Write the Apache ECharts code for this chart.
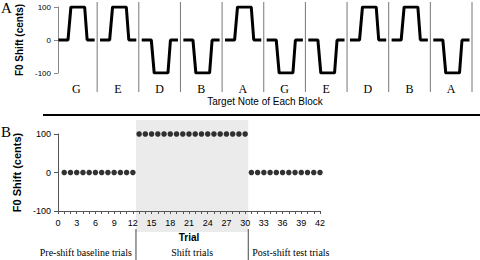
<!DOCTYPE html>
<html><head><meta charset="utf-8">
<script src="https://cdn.jsdelivr.net/npm/echarts@6/dist/echarts.min.js"></script>
<style>html,body{margin:0;padding:0;background:#fff}#c{width:480px;height:260px}</style>
</head><body><div id="c"></div>
<script>
// Panel A: target note and shift direction of each block
const blockNotes = ['G','E','D','B','A','G','E','D','B','A'];
const blockShifts = [100,100,-100,-100,100,-100,-100,100,100,-100];
// shape of a single block's shift pulse (fraction of block, relative level)
const pulsePhases = [0.07,0.30,0.37,0.70,0.76,0.94];
const pulseLevels = [0,0,1,1,0,0];
const shiftTicks = [-100,0,100];
// Panel B: F0 shift on each trial
const trialShifts = [0,0,0,0,0,0,0,0,0,0,0,0,
  100,100,100,100,100,100,100,100,100,100,100,100,100,100,100,100,100,100,
  0,0,0,0,0,0,0,0,0,0,0,0];
const trialTicks = [0,3,6,9,12,15,18,21,24,27,30,33,36,39,42];
const phaseBounds = [12.5, 30.5];
const phaseLabels = ['Pre-shift baseline trials','Shift trials','Post-shift test trials'];

const SANS = '"Liberation Sans", Arial, sans-serif';
const SERIF = '"Liberation Serif", "Times New Roman", serif';

const pulseData = [];
blockShifts.forEach((s, i) => {
  pulsePhases.forEach((p, j) => pulseData.push([i + p, pulseLevels[j] * s]));
  pulseData.push([i + 1, '-']);
});
const trialData = trialShifts.map((v, i) => [i + 1, v]);

const chart = echarts.init(document.getElementById('c'), null, {renderer: 'svg'});
chart.setOption({
  animation: false,
  backgroundColor: '#fff',
  graphic: [
    {type: 'text', left: 1, top: 0, style: {text: 'A', font: '15px ' + SERIF, fill: '#000'}},
    {type: 'text', left: 1, top: 124, style: {text: 'B', font: '15px ' + SERIF, fill: '#000'}},
    {type: 'line', shape: {x1: 43, y1: 115, x2: 480, y2: 115}, style: {stroke: '#000', lineWidth: 2}}
  ],
  grid: [
    {left: 58, right: 8, top: 7, height: 66},
    {left: 58, right: 160, top: 134, height: 77}
  ],
  xAxis: [
    {gridIndex: 0, type: 'value', min: 0.06, max: 10,
     axisLine: {show: false, onZero: false}, axisTick: {show: false}, axisLabel: {show: false}, splitLine: {show: false},
     name: 'Target Note of Each Block', nameLocation: 'middle', nameGap: 23,
     nameTextStyle: {fontFamily: SANS, fontSize: 10, color: '#000'}},
    {gridIndex: 1, type: 'value', min: 0, max: 42, interval: 3,
     axisLine: {onZero: false, lineStyle: {color: '#555', width: 1}},
     axisTick: {length: 3, lineStyle: {color: '#555'}},
     minorTick: {show: true, splitNumber: 3, length: 3, lineStyle: {color: '#555'}},
     axisLabel: {fontFamily: SANS, fontSize: 9, color: '#000', margin: 7,
       formatter: v => trialTicks.includes(v) ? String(v) : ''},
     splitLine: {show: false},
     name: 'Trial', nameLocation: 'middle', nameGap: 21,
     nameTextStyle: {fontFamily: SANS, fontSize: 10, fontWeight: 'bold', color: '#000'}}
  ],
  yAxis: [
    {gridIndex: 0, type: 'value', min: shiftTicks[0], max: shiftTicks[2], interval: 100,
     axisLine: {show: true, lineStyle: {color: '#888'}},
     axisTick: {show: true, length: 4, lineStyle: {color: '#888'}},
     axisLabel: {fontFamily: SANS, fontSize: 8, color: '#000', margin: 7},
     splitLine: {show: false},
     name: 'F0 Shift (cents)', nameLocation: 'middle', nameGap: 30,
     nameTextStyle: {fontFamily: SANS, fontSize: 10, fontWeight: 'bold', color: '#000'}},
    {gridIndex: 1, type: 'value', min: shiftTicks[0], max: shiftTicks[2], interval: 100,
     axisLine: {show: true, lineStyle: {color: '#555'}},
     axisTick: {show: true, length: 4, lineStyle: {color: '#555'}},
     axisLabel: {fontFamily: SANS, fontSize: 9, color: '#000', margin: 7},
     splitLine: {show: false},
     name: 'F0 Shift (cents)', nameLocation: 'middle', nameGap: 30,
     nameTextStyle: {fontFamily: SANS, fontSize: 11, fontWeight: 'bold', color: '#000'}}
  ],
  series: [
    {type: 'line', xAxisIndex: 0, yAxisIndex: 0, data: pulseData, showSymbol: false, symbol: 'none',
     connectNulls: false, lineStyle: {color: '#000', width: 3}, silent: true},
    {type: 'custom', xAxisIndex: 0, yAxisIndex: 0, clip: false, silent: true,
     data: blockNotes.map((n, i) => [i, 0]),
     renderItem(params, api) {
       const i = params.dataIndex;
       const cs = params.coordSys;
       const xr = api.coord([i + 1, 0])[0];
       const xc = api.coord([i + 0.5, 0])[0];
       return {type: 'group', children: [
         {type: 'line', shape: {x1: xr, y1: cs.y - 5, x2: xr, y2: cs.y + cs.height + 19},
          style: {stroke: '#777', lineWidth: 1}},
         {type: 'text', x: xc, y: cs.y + cs.height + 16,
          style: {text: blockNotes[i], font: '12px ' + SERIF, fill: '#000', align: 'center', verticalAlign: 'middle'}}
       ]};
     }},
    {type: 'custom', xAxisIndex: 1, yAxisIndex: 1, clip: false, silent: true, z: -1,
     data: phaseLabels.map((t, i) => [i, 0]),
     renderItem(params, api) {
       const i = params.dataIndex;
       const cs = params.coordSys;
       const x0 = api.coord([phaseBounds[0], 0])[0];
       const x1 = api.coord([phaseBounds[1], 0])[0];
       const ty = cs.y + cs.height + 41;
       const font = '10px ' + SERIF;
       const children = [];
       if (i === 0) {
         children.push({type: 'text', x: x0 - 4, y: ty,
           style: {text: phaseLabels[0], font, fill: '#000', align: 'right', verticalAlign: 'middle'}});
       } else if (i === 1) {
         children.push({type: 'rect', shape: {x: x0, y: cs.y - 14, width: x1 - x0, height: cs.height + 35},
           style: {fill: '#ebebeb'}});
         [x0, x1].forEach(x => children.push({type: 'line',
           shape: {x1: x, y1: cs.y + cs.height + 18, x2: x, y2: 260},
           style: {stroke: '#444', lineWidth: 1}}));
         children.push({type: 'text', x: (x0 + x1) / 2, y: ty,
           style: {text: phaseLabels[1], font, fill: '#000', align: 'center', verticalAlign: 'middle'}});
       } else {
         children.push({type: 'text', x: x1 + 4, y: ty,
           style: {text: phaseLabels[2], font, fill: '#000', align: 'left', verticalAlign: 'middle'}});
       }
       return {type: 'group', children};
     }},
    {type: 'scatter', xAxisIndex: 1, yAxisIndex: 1, data: trialData, symbol: 'circle', symbolSize: 5.5,
     itemStyle: {color: '#000'}, silent: true}
  ]
});
</script></body></html>
